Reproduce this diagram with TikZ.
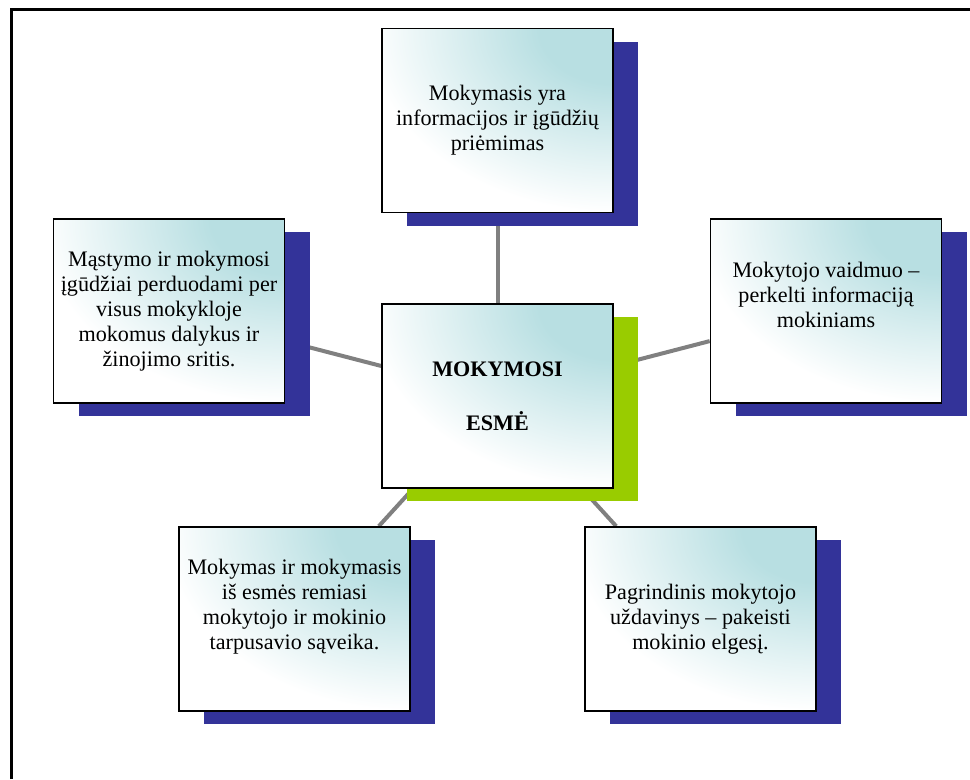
\documentclass[tikz,border=0pt]{standalone}
\usepackage{fontspec}
\setmainfont{Liberation Serif}
\usetikzlibrary{shadows,backgrounds}

\definecolor{shadowblue}{RGB}{51,51,153}
\definecolor{shadowgreen}{RGB}{153,204,0}
\definecolor{boxteal}{RGB}{184,223,226}
\definecolor{linkgray}{RGB}{128,128,128}

% teal glow from the upper right corner
\pgfdeclareradialshading{cardglow}{\pgfpointorigin}{color(0bp)=(boxteal); color(6bp)=(boxteal); color(20bp)=(white); color(50bp)=(white)}

\tikzset{
    card/.style={draw=black, line width=1.2pt, minimum width=173.25pt, minimum height=138pt,
        inner sep=0pt, align=center, fill=white,
        path picture={\shade[shading=cardglow] (path picture bounding box.north east)
            ellipse [x radius=230pt, y radius=172pt];}},
    idea/.style={card, font=\fontsize{16.6}{18.75}\selectfont,
        drop shadow={shadow xshift=18.75pt, shadow yshift=-9.75pt, fill=shadowblue, opacity=1}},
    core/.style={card, font=\bfseries\fontsize{16.6}{18.75}\selectfont,
        drop shadow={shadow xshift=18.75pt, shadow yshift=-9.75pt, fill=shadowgreen, opacity=1}},
    link/.style={draw=linkgray, line width=3pt}
}

\begin{document}
\begin{tikzpicture}[x=0.75pt, y=-0.75pt]
    \useasboundingbox (0,0) rectangle (970,779);

    % Frame (only top and left edges show)
    \draw[line width=2.25pt] (11,779) -- (11,9) -- (970,9);

    % Centre box
    \node[core] (esme) at (497.5,396) {MOKYMOSI\\[21.75pt]ESMĖ};

    % Surrounding boxes
    \node[idea] (priemimas) at (497.5,120.5) {Mokymasis yra\\informacijos ir įgūdžių\\priėmimas};
    \node[idea] (mastymas) at (169,311) {Mąstymo ir mokymosi\\įgūdžiai perduodami per\\visus mokykloje\\mokomus dalykus ir\\žinojimo sritis.};
    \node[idea, text depth=24pt] (vaidmuo) at (826,311) {Mokytojo vaidmuo --\\perkelti informaciją\\mokiniams};
    \node[idea, text depth=22pt] (saveika) at (294.5,619) {Mokymas ir mokymasis\\iš esmės remiasi\\mokytojo ir mokinio\\tarpusavio sąveika.};
    \node[idea] (uzdavinys) at (700.5,619) {Pagrindinis mokytojo\\uždavinys -- pakeisti\\mokinio elgesį.};

    % Connectors behind the boxes
    \begin{scope}[on background layer]
        \draw[link] (esme) -- (priemimas);
        \draw[link] (esme) -- (mastymas);
        \draw[link] (esme) -- (vaidmuo);
        \draw[link] (esme) -- (saveika);
        \draw[link] (esme) -- (uzdavinys);
    \end{scope}
\end{tikzpicture}
\end{document}
